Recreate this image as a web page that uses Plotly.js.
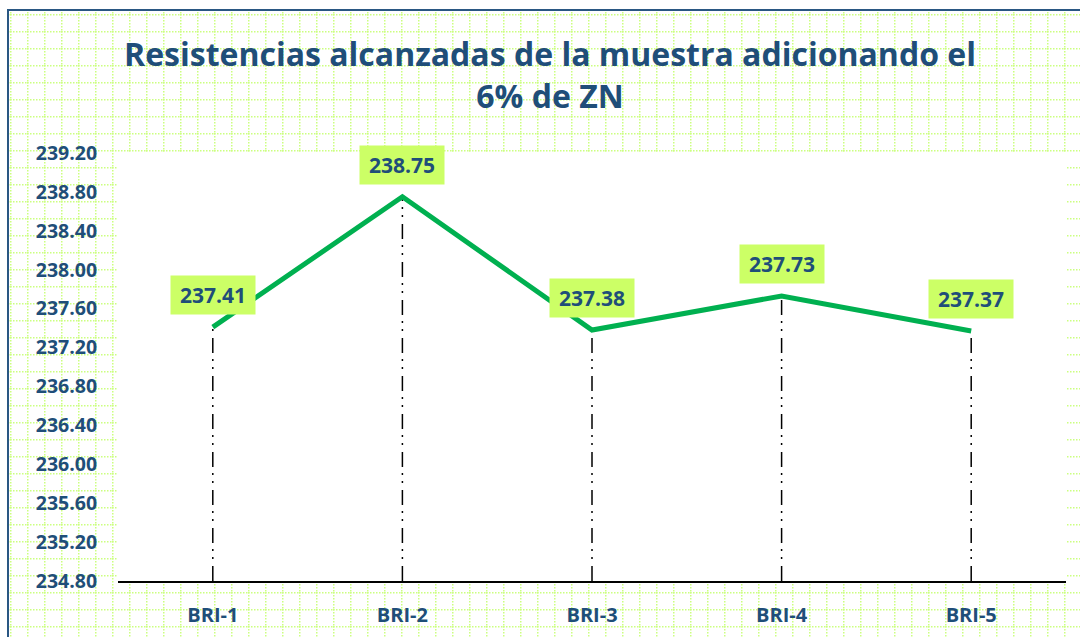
<!DOCTYPE html>
<html>
<head>
<meta charset="utf-8">
<script src="https://cdn.plot.ly/plotly-3.0.1.min.js"></script>
<style>
html,body{margin:0;padding:0;background:#ffffff;overflow:hidden;width:1080px;height:637px;position:relative}
#frame{position:absolute;left:7px;top:9px;width:1300px;height:900px;border-left:2px solid #2a5783;border-top:2px solid #2a5783;
background-image:url("data:image/svg+xml,%3Csvg xmlns='http://www.w3.org/2000/svg' width='17' height='17'%3E%3Cline x1='0' y1='0.75' x2='17' y2='0.75' stroke='%23ccff80' stroke-width='1.5' stroke-dasharray='1.5 1.5'/%3E%3Cline x1='0.75' y1='0' x2='0.75' y2='17' stroke='%23ccff80' stroke-width='1.5' stroke-dasharray='1.5 1.5'/%3E%3C/svg%3E");
background-position:1px 3px;}
#chart{position:absolute;left:0;top:0;width:1080px;height:637px}
</style>
</head>
<body>
<div id="frame"></div>
<div id="chart"></div>
<script>
// ---- data ----
const categories = ['BRI-1', 'BRI-2', 'BRI-3', 'BRI-4', 'BRI-5'];
const resistances = [237.41, 238.75, 237.38, 237.73, 237.37];
const yTickValues = [234.80, 235.20, 235.60, 236.00, 236.40, 236.80, 237.20, 237.60, 238.00, 238.40, 238.80, 239.20];
const yTickLabels = ['234.80', '235.20', '235.60', '236.00', '236.40', '236.80', '237.20', '237.60', '238.00', '238.40', '238.80', '239.20'];
const axisMin = 234.80;
const axisMax = 239.20;
const titleLines = ['Resistencias alcanzadas de la muestra adicionando el', '6% de ZN'];

const textColor = '#1f4e79';
const fontFam = '"Open Sans", Lato, sans-serif';

// drop lines (dash-dot-dot) from each point to the category axis
const traces = categories.map((c, i) => ({
  type: 'scatter',
  mode: 'lines',
  x: [c, c],
  y: [axisMin, resistances[i]],
  line: {color: '#000000', width: 1.5, dash: '15px,7px,2px,6px,2px,6px'},
  hoverinfo: 'skip',
  showlegend: false
}));

traces.push({
  type: 'scatter',
  mode: 'lines',
  x: categories,
  y: resistances,
  line: {color: '#00b050', width: 5},
  showlegend: false,
  hoverinfo: 'skip'
});

const annotations = categories.map((c, i) => ({
  x: c, y: resistances[i], xref: 'x', yref: 'y',
  text: '<b>' + resistances[i].toFixed(2) + '</b>',
  showarrow: false,
  yanchor: 'middle', xanchor: 'center',
  yshift: 32,
  bgcolor: '#ccff66',
  borderpad: 6,
  width: 72, height: 26,
  font: {family: fontFam, size: 21, color: textColor}
}));

const layout = {
  width: 1080, height: 637,
  margin: {l: 118, r: 14, t: 153, b: 56, pad: 0},
  paper_bgcolor: 'rgba(0,0,0,0)',
  plot_bgcolor: '#ffffff',
  title: {
    text: '<b>' + titleLines.join('<br>') + '</b>',
    x: 550 / 1080, xref: 'container', xanchor: 'center',
    y: 1 - 66 / 637, yref: 'container', yanchor: 'top',
    font: {family: fontFam, size: 32, color: textColor}
  },
  xaxis: {
    type: 'category',
    range: [-0.5, 4.5],
    showgrid: false, zeroline: false,
    showline: true, linecolor: '#000000', linewidth: 2,
    ticks: 'outside', ticklen: 15, tickcolor: 'rgba(0,0,0,0)',
    tickfont: {family: fontFam, size: 20, color: textColor},
    tickprefix: '<b>', ticksuffix: '</b>',
    fixedrange: true
  },
  yaxis: {
    range: [axisMin, axisMax],
    tickvals: yTickValues,
    ticktext: yTickLabels.map(t => '<b>' + t + '</b>'),
    showgrid: false, zeroline: false, showline: false,
    ticks: 'outside', ticklen: 16, tickcolor: 'rgba(0,0,0,0)',
    tickfont: {family: fontFam, size: 19.5, color: textColor},
    fixedrange: true
  },
  annotations: annotations,
  showlegend: false
};

Plotly.newPlot('chart', traces, layout, {displayModeBar: false, staticPlot: true});
</script>
</body>
</html>
